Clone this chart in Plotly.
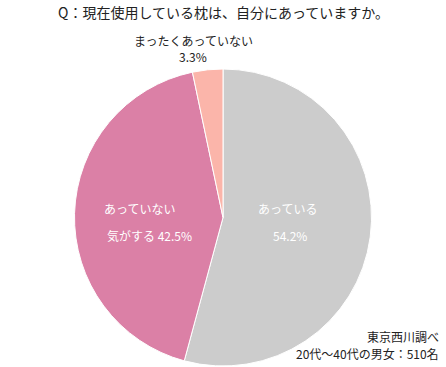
import plotly.graph_objects as go

labels = ["あっている", "あっていない気がする", "まったくあっていない"]
label_lines = [["あっている", ""], ["あっていない", "気がする "], ["まったくあっていない", ""]]
values = [54.2, 42.5, 3.3]
colors = ["#cccccc", "#db80a6", "#fbb5aa"]
title_text = "Q：現在使用している枕は、自分にあっていますか。"
note_lines = ["東京西川調べ", "20代～40代の男女：510名"]

W, H = 446, 367
FONT = "Noto Sans CJK JP"

def px(x):
    return x / W

def py(y):
    return 1 - y / H

fig = go.Figure(go.Pie(
    labels=labels, values=values, sort=False, direction="clockwise", rotation=0,
    marker=dict(colors=colors, line=dict(color="white", width=1)),
    textinfo="none", hoverinfo="skip", showlegend=False,
    domain=dict(x=[px(74), px(372)], y=[py(366), py(69)]),
))

ann = []
def add(text, x, y, color, size=12, xanchor="center"):
    ann.append(dict(text=text, x=px(x), y=py(y), xref="paper", yref="paper",
                    showarrow=False, xanchor=xanchor, yanchor="middle",
                    font=dict(family=FONT, size=size, color=color)))

add(title_text, 223, 12, "#222222", 14)
# inside labels
add(label_lines[0][0], 287, 208, "white")
add(f"{values[0]}%", 290, 235, "white")
add(label_lines[1][0], 139, 208, "white")
add(f"{label_lines[1][1]}{values[1]}%", 149, 235, "white")
# outside small slice
add(label_lines[2][0], 193, 40, "#222222")
add(f"{values[2]}%", 193, 57, "#222222")
# note
add(note_lines[0], 441, 336, "#222222", 12, "right")
add(note_lines[1], 441, 353, "#222222", 12, "right")

fig.update_layout(width=W, height=H, margin=dict(l=0, r=0, t=0, b=0),
                  paper_bgcolor="white", plot_bgcolor="white", annotations=ann,
                  font=dict(family=FONT))
fig.write_html("out.html", config={"displayModeBar": False},
               post_script="document.body.style.margin='0';document.body.style.overflow='hidden';")
